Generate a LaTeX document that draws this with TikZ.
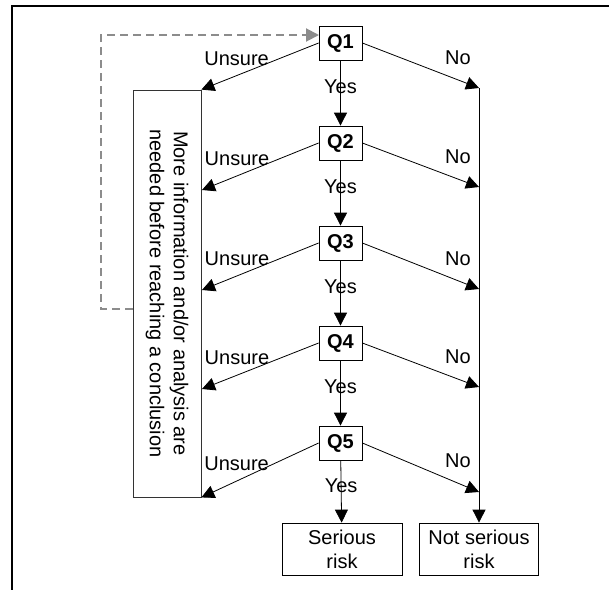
\documentclass[tikz,border=0pt]{standalone}
\usepackage{fontspec}
\setmainfont{Liberation Sans}
\usetikzlibrary{arrows.meta}

\begin{document}
\begin{tikzpicture}[x=0.5pt, y=-0.5pt, node distance=50pt, thin,
  font=\fontsize{10}{12}\selectfont,
  qbox/.style = {draw, minimum width=21.5pt, minimum height=17pt, inner sep=0pt, font=\fontsize{10}{12}\selectfont\bfseries},
  endbox/.style = {draw, minimum height=26pt, inner sep=0pt, align=center},
  arr/.style = {-{Triangle[length=6.5pt,width=6.5pt]}},
  back/.style = {draw=black!45, line width=1pt, dash pattern=on 4pt off 2.5pt, -{Triangle[length=6.5pt,width=6.5pt]}}]
\useasboundingbox (0,0) rectangle (609,590);
\draw[line width=1pt] (609,6) -- (12,6) -- (12,590);

\node[qbox] (q1) at (340.5,43) {Q1};
\node[qbox] (q2) [below of=q1] {Q2};
\node[qbox] (q3) [below of=q2] {Q3};
\node[qbox] (q4) [below of=q3] {Q4};
\node[qbox] (q5) [below of=q4] {Q5};

\node[endbox, minimum width=60pt] (serious) at (342,549) {Serious\\risk};
\node[endbox, minimum width=59.5pt] (notserious) at (479,549) {Not serious\\risk};

\node[draw=black!80, minimum width=34pt, minimum height=203.5pt] (info) at (167,293.5) {};
\node[rotate=-90, align=center] (infotext) at (info.center) {More information and/or analysis are\\needed before reaching a conclusion};

% ends of the side arrows
\coordinate (u2) at (202,190);
\coordinate (u3) at (202,290);
\coordinate (u4) at (202,389);
\coordinate (n1) at (479,88);
\coordinate (n2) at (479,187);
\coordinate (n3) at (479,289);
\coordinate (n4) at (479,387);
\coordinate (n5) at (479,492);
\coordinate (fb) at (info.west |- 0,309);
\coordinate (fbin) at (319,35);

\draw[arr] (q1) -- node[pos=0.4] {Yes} (q2);
\draw[arr] (q2) -- node[pos=0.4] {Yes} (q3);
\draw[arr] (q3) -- node[pos=0.4] {Yes} (q4);
\draw[arr] (q4) -- node[pos=0.4] {Yes} (q5);
\draw[arr] (q5) -- node[pos=0.4] {Yes} (serious);

\draw[arr] (q1.west) -- node[pos=0.7, above=1.5pt] {Unsure} (info.north east);
\draw[arr] (q2.west) -- node[pos=0.7, above=1.5pt] {Unsure} (u2);
\draw[arr] (q3.west) -- node[pos=0.7, above=1.5pt] {Unsure} (u3);
\draw[arr] (q4.west) -- node[pos=0.7, above=1.5pt] {Unsure} (u4);
\draw[arr] (q5.west) -- node[pos=0.7, above=1.5pt] {Unsure} (info.south east);

\draw[arr] (q1.east) -- node[pos=0.82, above=4pt] {No} (n1);
\draw[arr] (q2.east) -- node[pos=0.82, above=4pt] {No} (n2);
\draw[arr] (q3.east) -- node[pos=0.82, above=4pt] {No} (n3);
\draw[arr] (q4.east) -- node[pos=0.82, above=4pt] {No} (n4);
\draw[arr] (q5.east) -- node[pos=0.82, above=4pt] {No} (n5);
\draw[arr] (n1) -- (notserious.north);

\draw[back] (fb) -- (101,309) -- (101,35) -- (fbin);

\end{tikzpicture}
\end{document}
